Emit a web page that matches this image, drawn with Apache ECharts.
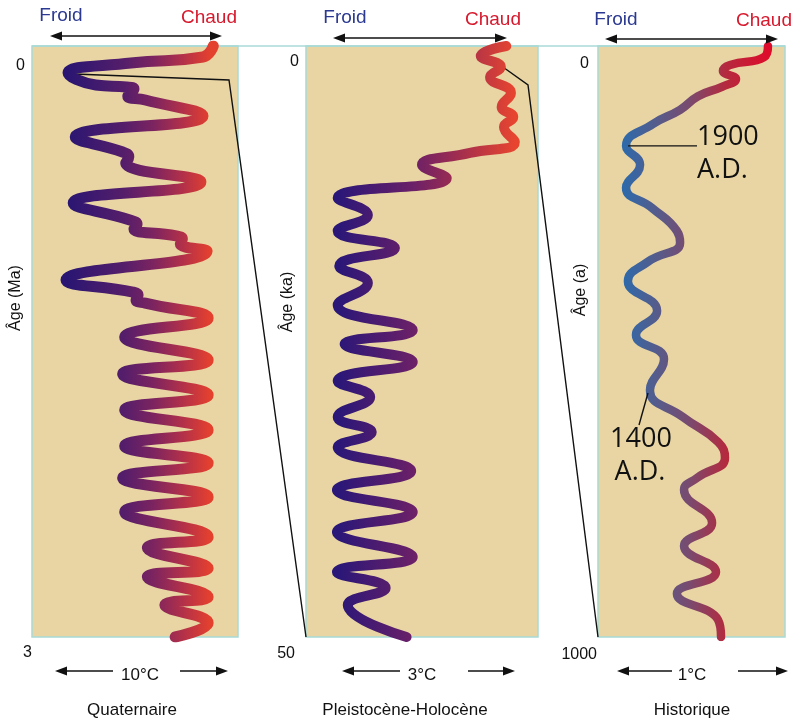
<!DOCTYPE html>
<html>
<head>
<meta charset="utf-8">
<script src="https://cdn.jsdelivr.net/npm/echarts@6/dist/echarts.min.js"></script>
<style>
  html, body { margin: 0; padding: 0; background: #fff; }
  #chart { width: 799px; height: 720px; }
</style>
</head>
<body>
<div id="chart"></div>
<script>
  // Quaternaire : âge en Ma, température relative en °C
  const ageQuat = [0, 0.056, 0.086, 0.137, 0.198, 0.208, 0.218, 0.254, 0.274, 0.355, 0.462, 0.538, 0.563, 0.594, 0.690, 0.797,
    0.883, 0.904, 0.929, 0.964, 0.980, 1.005, 1.041, 1.188, 1.249, 1.264, 1.289, 1.305, 1.381, 1.477, 1.594, 1.665,
    1.772, 1.848, 1.949, 2.030, 2.117, 2.193, 2.289, 2.365, 2.492, 2.548, 2.650, 2.695, 2.797, 2.838, 2.929, 3.0];
  const tempQuat = [8.8, 8.3, 4.8, 1.75, 3.1, 4.6, 4.95, 4.65, 5.5, 8.3, 2.1, 4.4, 4.7, 4.55, 8.2, 2.0,
    4.75, 5.1, 4.95, 7.0, 7.3, 7.2, 8.5, 1.65, 4.9, 5.15, 5.05, 5.5, 8.55, 4.5, 8.55, 4.4,
    8.55, 4.5, 8.55, 4.5, 8.55, 4.4, 8.55, 4.5, 8.55, 5.6, 8.55, 5.6, 8.55, 6.45, 8.55, 6.95];

  // Pleistocène-Holocène : âge en ka
  const agePleist = [0, 0.85, 1.78, 2.62, 3.98, 5.16, 6.01, 6.85, 8.12, 9.05, 10.07, 11.17, 12.86, 14.30, 15.65, 17.09,
    18.61, 20.05, 21.91, 24.03, 25.21, 26.73, 28.34, 29.70, 31.39, 32.66, 33.93, 35.96, 37.56, 39.42, 41.12, 43.23,
    44.50, 45.85, 47.29, 50];
  const tempPleist = [2.59, 2.26, 2.52, 2.38, 2.65, 2.53, 2.68, 2.56, 2.70, 2.12, 1.50, 1.82, 0.41, 0.80, 0.41, 1.15,
    0.43, 0.80, 0.41, 1.38, 0.50, 1.38, 0.41, 0.83, 0.41, 0.85, 0.41, 1.36, 0.40, 1.38, 0.40, 1.38,
    0.40, 1.03, 0.54, 1.30];

  // Historique : âge en années
  const ageHist = [0, 19, 32, 42, 56, 69, 85, 108, 132, 169, 201, 240, 274, 313, 333, 365,
    398, 448, 489, 530, 582, 628, 670, 697, 731, 751, 807, 846, 890, 927, 971, 1000];
  const tempHist = [0.909, 0.888, 0.706, 0.668, 0.738, 0.663, 0.535, 0.439, 0.294, 0.150, 0.225, 0.150, 0.289, 0.422, 0.439, 0.267,
    0.160, 0.316, 0.203, 0.353, 0.278, 0.455, 0.642, 0.679, 0.529, 0.460, 0.610, 0.460, 0.631, 0.422, 0.642, 0.658];

  const ageMax = [3, 50, 1000];
  const tempMax = [10, 3, 1];
  const panelNames = ['Quaternaire', 'Pleistocène-Holocène', 'Historique'];
  const ageNames = ['Âge (Ma)', 'Âge (ka)', 'Âge (a)'];
  const scaleNames = ['10°C', '3°C', '1°C'];
  const idx1900 = 9;
  const idx1400 = 20;

  const FONT = '"Liberation Sans", Arial, sans-serif';
  const chart = echarts.init(document.getElementById('chart'));

  const grids = [
    { left: 32, top: 46, width: 206, height: 591 },
    { left: 306, top: 46, width: 232, height: 591 },
    { left: 598, top: 46, width: 187, height: 591 }
  ];
  // padding [haut, droite] des étiquettes 0 et max
  const labelPads = [
    [[12, 7, 0, 0], [8, 0, 0, 0]],
    [[8, 7, 0, 0], [9, 11, 0, 0]],
    [[10, 9, 0, 0], [10, 1, 0, 0]]
  ];
  const gradients = [
    { x: 68, x2: 210, stops: [[0, '#2a1672'], [0.4, '#561e6a'], [0.6, '#7c2460'], [0.8, '#b0304a'], [1, '#e4402e']] },
    { x: 338, x2: 515, stops: [[0, '#2a1778'], [0.42, '#6a2068'], [0.65, '#9a2c52'], [1, '#e8452f']] },
    { x: 624, x2: 770, stops: [[0, '#2e6aaa'], [0.25, '#5a5a88'], [0.45, '#7a4a6e'], [0.7, '#b52a3e'], [1, '#e00a2a']] }
  ];
  const widths = [11, 10, 8.5];
  const series = [
    tempQuat.map((t, i) => [t, ageQuat[i]]),
    tempPleist.map((t, i) => [t, agePleist[i]]),
    tempHist.map((t, i) => [t, ageHist[i]])
  ];

  chart.setOption({
    animation: false,
    grid: grids.map(g => Object.assign({
      show: true, backgroundColor: '#e8d5a3', borderColor: '#a8dad6', borderWidth: 1.5, z: 0
    }, g)),
    xAxis: grids.map((g, i) => ({
      gridIndex: i, type: 'value', min: 0, max: tempMax[i], show: false
    })),
    yAxis: grids.map((g, i) => ({
      gridIndex: i, type: 'value', inverse: true, min: 0, max: ageMax[i], interval: ageMax[i],
      axisLine: { show: false }, axisTick: { show: false }, splitLine: { show: false },
      axisLabel: {
        margin: 0,
        verticalAlign: 'top',
        formatter: v => (v === 0 ? '{a|' : '{b|') + v + '}',
        rich: {
          a: { fontSize: 16, fontFamily: FONT, color: '#111', padding: labelPads[i][0] },
          b: { fontSize: 16, fontFamily: FONT, color: '#111', padding: labelPads[i][1] }
        }
      }
    })),
    series: series.map((d, i) => ({
      type: 'line',
      xAxisIndex: i,
      yAxisIndex: i,
      data: d,
      smooth: 0.5,
      symbol: 'none',
      silent: true,
      z: 2,
      lineStyle: {
        width: widths[i],
        cap: 'round',
        join: 'round',
        color: {
          type: 'linear', global: true, x: gradients[i].x, y: 0, x2: gradients[i].x2, y2: 0,
          colorStops: gradients[i].stops.map(s => ({ offset: s[0], color: s[1] }))
        }
      }
    }))
  });

  // éléments de décor
  function txt(text, x, y, size, color, extra) {
    return Object.assign({
      type: 'text', x: x, y: y, z: 5,
      style: {
        text: text, fontSize: size, fontFamily: FONT, fill: color,
        align: 'center', verticalAlign: 'middle', textAlign: 'center', textVerticalAlign: 'middle'
      }
    }, extra || {});
  }
  function seg(x1, y1, x2, y2, z) {
    return { type: 'line', z: z || 5, shape: { x1: x1, y1: y1, x2: x2, y2: y2 }, style: { stroke: '#111', lineWidth: 1.4 } };
  }
  function polyline(pts, z) {
    return { type: 'polyline', z: z || 5, shape: { points: pts }, style: { stroke: '#111', lineWidth: 1.4, fill: null } };
  }
  function head(x, y, dir) {
    return { type: 'polygon', z: 5, shape: { points: [[x, y], [x - dir * 12, y - 4.5], [x - dir * 12, y + 4.5]] }, style: { fill: '#111' } };
  }

  const topArrows = [[50, 222, 36], [333, 507, 38], [605, 778, 39]];
  const froidPos = [[61, 16], [345, 18], [616, 20]];
  const chaudPos = [[209, 18], [493, 20], [764, 21]];
  const bottomArrows = [[55, 113, 180, 228], [342, 400, 468, 515], [617, 672, 738, 788]];
  const scalePos = [140, 422, 692];
  const namePos = [132, 405, 692];
  const agePos = [[16, 298], [288, 302], [581, 290]];

  const els = [];
  els.push({ type: 'line', z: 1, shape: { x1: 32, y1: 46, x2: 785, y2: 46 }, style: { stroke: '#a8dad6', lineWidth: 1.5 } });
  for (let i = 0; i < 3; i++) {
    const a = topArrows[i];
    els.push(seg(a[0] + 6, a[2], a[1] - 6, a[2]), head(a[0], a[2], -1), head(a[1], a[2], 1));
    els.push(txt('Froid', froidPos[i][0], froidPos[i][1], 19, '#2b3990'));
    els.push(txt('Chaud', chaudPos[i][0], chaudPos[i][1], 19, '#d7192d'));
    const b = bottomArrows[i];
    els.push(seg(b[0] + 6, 671, b[1], 671), head(b[0], 671, -1));
    els.push(seg(b[2], 671, b[3] - 6, 671), head(b[3], 671, 1));
    els.push(txt(scaleNames[i], scalePos[i], 675, 17, '#111'));
    els.push(txt(panelNames[i], namePos[i], 710, 17, '#111'));
    els.push(txt(ageNames[i], agePos[i][0], agePos[i][1], 16, '#111', { rotation: Math.PI / 2 }));
  }

  // lignes de raccord entre les panneaux
  const q0 = chart.convertToPixel({ gridIndex: 0 }, series[0][3]);
  const p1End = chart.convertToPixel({ gridIndex: 1 }, [0, ageMax[1]]);
  els.push(polyline([[q0[0] + 6, q0[1] + 1], [229, 80], p1End], 1));
  const p0 = chart.convertToPixel({ gridIndex: 1 }, series[1][2]);
  const p2End = chart.convertToPixel({ gridIndex: 2 }, [0, ageMax[2]]);
  els.push(polyline([[p0[0] + 2, p0[1]], [528, 85], p2End], 1));

  // annotations 1900 / 1400
  const h19 = chart.convertToPixel({ gridIndex: 2 }, series[2][idx1900]);
  els.push(seg(h19[0] + 2, h19[1], 697, h19[1]));
  els.push(txt('1900', 697, 137, 27, '#111', { style: { text: '1900', fontSize: 27, fontFamily: '"Open Sans", sans-serif', fill: '#111', align: 'left', verticalAlign: 'middle', textAlign: 'left', textVerticalAlign: 'middle' } }));
  els.push(txt('A.D.', 697, 170, 27, '#111', { style: { text: 'A.D.', fontSize: 27, fontFamily: '"Open Sans", sans-serif', fill: '#111', align: 'left', verticalAlign: 'middle', textAlign: 'left', textVerticalAlign: 'middle' } }));
  const h14 = chart.convertToPixel({ gridIndex: 2 }, series[2][idx1400]);
  els.push(seg(h14[0] - 2, h14[1] + 3, 639, 425));
  els.push(txt('1400', 641, 439, 27, '#111', { style: { text: '1400', fontSize: 27, fontFamily: '"Open Sans", sans-serif', fill: '#111', align: 'center', verticalAlign: 'middle', textAlign: 'center', textVerticalAlign: 'middle' } }));
  els.push(txt('A.D.', 640, 472, 27, '#111', { style: { text: 'A.D.', fontSize: 27, fontFamily: '"Open Sans", sans-serif', fill: '#111', align: 'center', verticalAlign: 'middle', textAlign: 'center', textVerticalAlign: 'middle' } }));

  chart.setOption({ graphic: { elements: els } });
</script>
</body>
</html>
